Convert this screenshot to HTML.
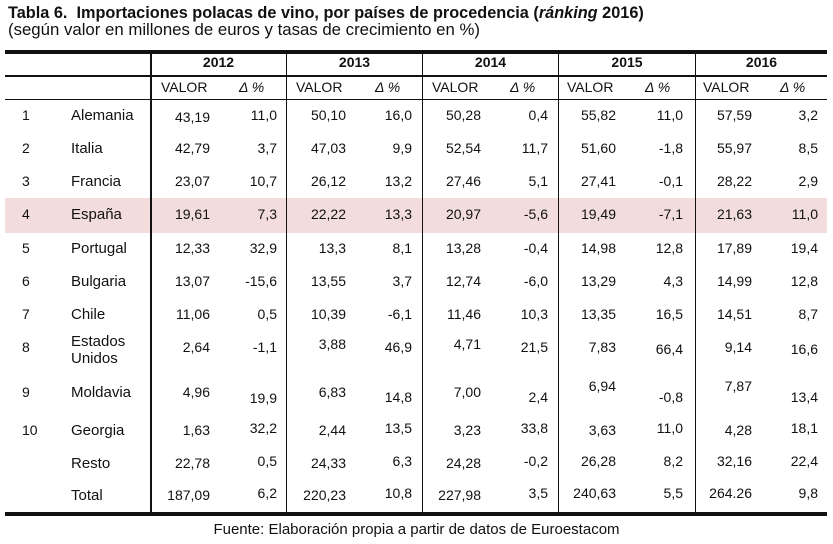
<!DOCTYPE html>
<html><head><meta charset="utf-8"><style>
body{margin:0;width:833px;height:544px;background:#fff;position:relative;overflow:hidden;font-family:"Liberation Sans",Arial,sans-serif;color:#111}
.a{position:absolute;white-space:nowrap;font-size:14px;line-height:16px}
.h{position:absolute;background:#111}
.r{position:absolute;left:0;width:833px;height:16px}
.r span{position:absolute;top:0;font-size:14px;line-height:16px;white-space:nowrap}
.c1{left:22px}.r .c2{left:71px;font-size:15px;top:1px}
.v12{right:623px}.d12{right:556px}.v13{right:487px}.d13{right:421px}.v14{right:352px}.d14{right:285px}.v15{right:217px}.d15{right:150px}.v16{right:81px}.d16{right:15px}
.up{top:-6px!important}
.yr{position:absolute;top:54px;font-weight:bold;font-size:14px;text-align:center}
.sub{position:absolute;top:79px;font-size:14px}
.it{font-style:italic}
</style></head><body>
<div class="a" style="left:8px;top:4px;font-weight:bold;font-size:16.3px;line-height:18px">Tabla 6.&nbsp; Importaciones polacas de vino, por países de procedencia (<i>ránking</i> 2016)</div>
<div class="a" style="left:8px;top:21px;font-size:16.8px;line-height:18px">(según valor en millones de euros y tasas de crecimiento en %)</div>
<div style="position:absolute;left:5px;top:198px;width:822px;height:35px;background:#f2dcdc"></div>
<div class="h" style="left:5px;top:50px;width:822px;height:4px"></div>
<div class="h" style="left:5px;top:75px;width:822px;height:1.5px"></div>
<div class="h" style="left:5px;top:99px;width:822px;height:1px"></div>
<div class="h" style="left:5px;top:512px;width:822px;height:4px"></div>
<div class="h" style="left:150px;top:52px;width:1.5px;height:462px"></div>
<div class="h" style="left:286px;top:52px;width:1px;height:462px"></div>
<div class="h" style="left:422px;top:52px;width:1px;height:462px"></div>
<div class="h" style="left:558px;top:52px;width:1px;height:462px"></div>
<div class="h" style="left:695px;top:52px;width:1px;height:462px"></div>
<div class="yr" style="left:151px;width:135px">2012</div>
<div class="yr" style="left:287px;width:135px">2013</div>
<div class="yr" style="left:423px;width:135px">2014</div>
<div class="yr" style="left:559px;width:136px">2015</div>
<div class="yr" style="left:696px;width:131px">2016</div>
<div class="sub" style="left:161px">VALOR</div><div class="sub it" style="left:239px">Δ %</div>
<div class="sub" style="left:296px">VALOR</div><div class="sub it" style="left:375px">Δ %</div>
<div class="sub" style="left:432px">VALOR</div><div class="sub it" style="left:510px">Δ %</div>
<div class="sub" style="left:567px">VALOR</div><div class="sub it" style="left:645px">Δ %</div>
<div class="sub" style="left:703px">VALOR</div><div class="sub it" style="left:780px">Δ %</div>

<div class="r" style="top:107px"><span class="c1">1</span><span class="c2">Alemania</span><span class="v12" style="top:2px">43,19</span><span class="d12">11,0</span><span class="v13">50,10</span><span class="d13">16,0</span><span class="v14">50,28</span><span class="d14">0,4</span><span class="v15">55,82</span><span class="d15">11,0</span><span class="v16">57,59</span><span class="d16">3,2</span></div>
<div class="r" style="top:140px"><span class="c1">2</span><span class="c2">Italia</span><span class="v12">42,79</span><span class="d12">3,7</span><span class="v13">47,03</span><span class="d13">9,9</span><span class="v14">52,54</span><span class="d14">11,7</span><span class="v15">51,60</span><span class="d15">-1,8</span><span class="v16">55,97</span><span class="d16">8,5</span></div>
<div class="r" style="top:173px"><span class="c1">3</span><span class="c2">Francia</span><span class="v12">23,07</span><span class="d12">10,7</span><span class="v13">26,12</span><span class="d13">13,2</span><span class="v14">27,46</span><span class="d14">5,1</span><span class="v15">27,41</span><span class="d15">-0,1</span><span class="v16">28,22</span><span class="d16">2,9</span></div>
<div class="r" style="top:206px"><span class="c1">4</span><span class="c2">España</span><span class="v12">19,61</span><span class="d12">7,3</span><span class="v13">22,22</span><span class="d13">13,3</span><span class="v14">20,97</span><span class="d14">-5,6</span><span class="v15">19,49</span><span class="d15">-7,1</span><span class="v16">21,63</span><span class="d16">11,0</span></div>
<div class="r" style="top:240px"><span class="c1">5</span><span class="c2">Portugal</span><span class="v12">12,33</span><span class="d12">32,9</span><span class="v13">13,3</span><span class="d13">8,1</span><span class="v14">13,28</span><span class="d14">-0,4</span><span class="v15">14,98</span><span class="d15">12,8</span><span class="v16">17,89</span><span class="d16">19,4</span></div>
<div class="r" style="top:273px"><span class="c1">6</span><span class="c2">Bulgaria</span><span class="v12">13,07</span><span class="d12">-15,6</span><span class="v13">13,55</span><span class="d13">3,7</span><span class="v14">12,74</span><span class="d14">-6,0</span><span class="v15">13,29</span><span class="d15">4,3</span><span class="v16">14,99</span><span class="d16">12,8</span></div>
<div class="r" style="top:306px"><span class="c1">7</span><span class="c2">Chile</span><span class="v12">11,06</span><span class="d12">0,5</span><span class="v13">10,39</span><span class="d13">-6,1</span><span class="v14">11,46</span><span class="d14">10,3</span><span class="v15">13,35</span><span class="d15">16,5</span><span class="v16">14,51</span><span class="d16">8,7</span></div>
<div class="r" style="top:345px"><span class="c1" style="top:-6px">8</span><span class="c2" style="top:-11px">Estados</span><span class="c2" style="top:6px">Unidos</span><span class="v12" style="top:-6px">2,64</span><span class="d12" style="top:-6px">-1,1</span><span class="v13" style="top:-9px">3,88</span><span class="d13" style="top:-6px">46,9</span><span class="v14" style="top:-9px">4,71</span><span class="d14" style="top:-6px">21,5</span><span class="v15 up">7,83</span><span class="d15" style="top:-4px">66,4</span><span class="v16 up">9,14</span><span class="d16" style="top:-4px">16,6</span></div>
<div class="r" style="top:384px"><span class="c1">9</span><span class="c2">Moldavia</span><span class="v12">4,96</span><span class="d12" style="top:6px">19,9</span><span class="v13">6,83</span><span class="d13" style="top:5px">14,8</span><span class="v14">7,00</span><span class="d14" style="top:5px">2,4</span><span class="v15" style="top:-6px">6,94</span><span class="d15" style="top:5px">-0,8</span><span class="v16" style="top:-6px">7,87</span><span class="d16" style="top:5px">13,4</span></div>
<div class="r" style="top:422px"><span class="c1">10</span><span class="c2">Georgia</span><span class="v12">1,63</span><span class="d12" style="top:-2px">32,2</span><span class="v13">2,44</span><span class="d13" style="top:-2px">13,5</span><span class="v14">3,23</span><span class="d14" style="top:-2px">33,8</span><span class="v15">3,63</span><span class="d15" style="top:-2px">11,0</span><span class="v16">4,28</span><span class="d16" style="top:-2px">18,1</span></div>
<div class="r" style="top:455px"><span class="c2">Resto</span><span class="v12">22,78</span><span class="d12" style="top:-2px">0,5</span><span class="v13">24,33</span><span class="d13" style="top:-2px">6,3</span><span class="v14">24,28</span><span class="d14" style="top:-2px">-0,2</span><span class="v15" style="top:-2px">26,28</span><span class="d15" style="top:-2px">8,2</span><span class="v16" style="top:-2px">32,16</span><span class="d16" style="top:-2px">22,4</span></div>
<div class="r" style="top:487px"><span class="c2">Total</span><span class="v12">187,09</span><span class="d12" style="top:-2px">6,2</span><span class="v13">220,23</span><span class="d13" style="top:-2px">10,8</span><span class="v14">227,98</span><span class="d14" style="top:-2px">3,5</span><span class="v15" style="top:-2px">240,63</span><span class="d15" style="top:-2px">5,5</span><span class="v16" style="top:-2px">264.26</span><span class="d16" style="top:-2px">9,8</span></div>
<div class="a" style="left:0;width:833px;text-align:center;top:521px;font-size:15px;line-height:17px">Fuente: Elaboración propia a partir de datos de Euroestacom</div>
</body></html>
